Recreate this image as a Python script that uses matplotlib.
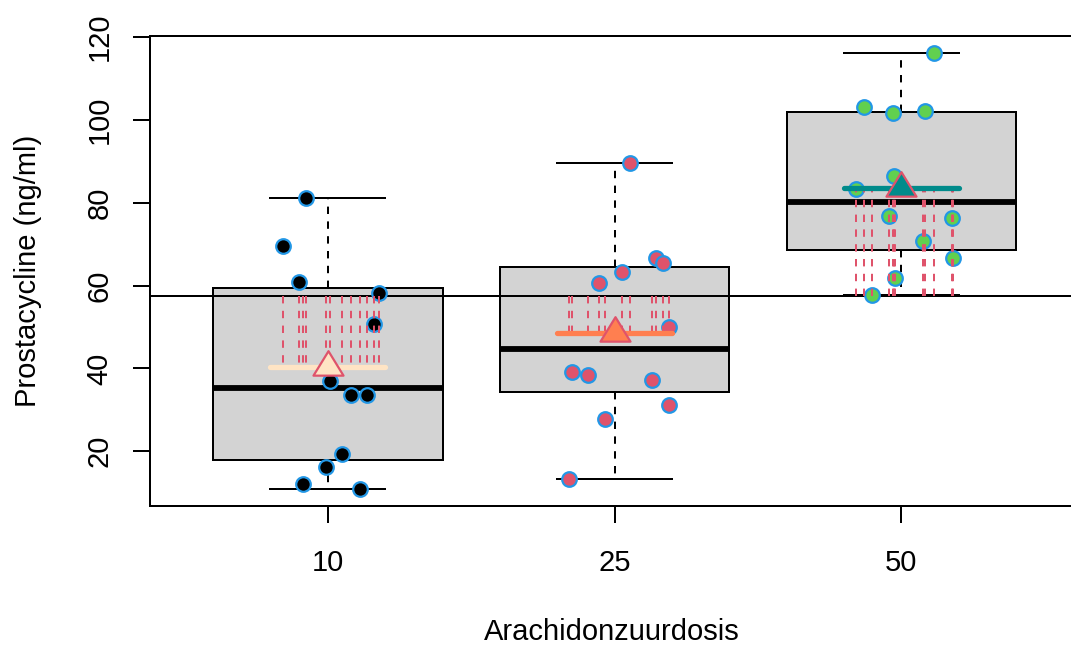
import numpy as np
import matplotlib.pyplot as plt
from matplotlib.path import Path

plt.rcParams['font.family'] = ['Liberation Sans', 'DejaVu Sans']

# data
doses = ["10", "25", "50"]
vals_10 = [81.2, 69.5, 60.9, 58.1, 50.8, 36.9, 33.7, 33.5, 19.4, 16.2, 12.2, 11.0]
vals_25 = [89.6, 66.6, 65.4, 63.3, 60.6, 50.1, 39.1, 38.5, 37.3, 31.1, 27.9, 13.4]
vals_50 = [116.0, 103.0, 101.6, 102.2, 86.4, 83.4, 76.8, 76.4, 70.7, 66.6, 61.9, 57.6]
# horizontal jitter of each point (as drawn)
jit_10 = [-0.076, -0.156, -0.100, 0.178, 0.161, 0.009, 0.081, 0.138, 0.048, -0.005, -0.086, 0.113]
jit_25 = [0.055, 0.143, 0.168, 0.026, -0.053, 0.191, -0.150, -0.092, 0.130, 0.189, -0.034, -0.160]
jit_50 = [0.115, -0.129, -0.029, 0.082, -0.026, -0.157, -0.044, 0.177, 0.075, 0.179, -0.021, -0.102]

groups = [vals_10, vals_25, vals_50]
jitters = [jit_10, jit_25, jit_50]
point_cols = ["black", "#DF536B", "#61D04F"]
mean_cols = ["#FFE4C4", "#FF7F50", "#008B8B"]
red = "#DF536B"
blue = "#2297E6"


def fivenum(x):
    x = np.sort(np.asarray(x, float))
    n = len(x)
    n4 = np.floor((n + 3) / 2) / 2
    d = np.array([1, n4, (n + 1) / 2, n + 1 - n4, n]) - 1
    return 0.5 * (x[np.floor(d).astype(int)] + x[np.ceil(d).astype(int)])


stats = []
for i, g in enumerate(groups):
    lo, q1, med, q3, hi = fivenum(g)
    iqr = q3 - q1
    arr = np.asarray(g)
    wlo = arr[arr >= q1 - 1.5 * iqr].min()
    whi = arr[arr <= q3 + 1.5 * iqr].max()
    stats.append(dict(med=med, q1=q1, q3=q3, whislo=wlo, whishi=whi, fliers=[], label=doses[i]))

fig = plt.figure(figsize=(10.71, 6.49), dpi=100)
ax = fig.add_axes([150 / 1071, 1 - 506 / 649, 929.2 / 1071, 470 / 649])

lw = 1.44
ax.bxp(stats, positions=[1, 2, 3], widths=0.8, capwidths=0.4, patch_artist=True,
       showfliers=False,
       boxprops=dict(facecolor="#D3D3D3", edgecolor="black", linewidth=lw),
       medianprops=dict(color="black", linewidth=4.2, solid_capstyle="butt"),
       whiskerprops=dict(color="black", linewidth=lw, linestyle=(0, (3.7, 3.7))),
       capprops=dict(color="black", linewidth=lw), zorder=1)

grand_mean = np.mean(np.concatenate(groups))
ax.axhline(grand_mean, color="black", linewidth=lw, zorder=1.5)

# centroid-centred triangle like R's pch 24
tri = Path([(0, 1), (-0.92, -0.5), (0.92, -0.5), (0, 1)],
           [Path.MOVETO, Path.LINETO, Path.LINETO, Path.CLOSEPOLY])

for i, (g, j) in enumerate(zip(groups, jitters)):
    pos = i + 1
    xs = pos + np.asarray(j)
    ax.plot(xs, g, "o", ms=10.5, mfc=point_cols[i], mec=blue, mew=1.6,
            linestyle="none", zorder=2)
    m = np.mean(g)
    ax.vlines(xs, grand_mean, m, colors=red, linewidth=lw,
              linestyles=[(0, (3.7, 3.7))], zorder=3)
    ax.plot([pos - 0.2, pos + 0.2], [m, m], color=mean_cols[i], linewidth=3.8,
            solid_capstyle="round", zorder=4)
    ax.plot([pos], [m], marker=tri, ms=23.5, mfc=mean_cols[i], mec=red, mew=1.6,
            linestyle="none", zorder=5)

allv = np.concatenate(groups)
span = allv.max() - allv.min()
ax.set_ylim(allv.min() - 0.04 * span, allv.max() + 0.04 * span)
ax.set_xlim(0.38, 3.62)

ax.set_xticks([1, 2, 3])
ax.set_xticklabels(doses)
ax.set_yticks([20, 40, 60, 80, 100, 120])
ax.set_yticklabels(["20", "40", "60", "80", "100", "120"], rotation=90, va="center", ha="center")
ax.tick_params(axis="both", direction="out", length=12, width=lw, labelsize=21)
ax.tick_params(axis="y", pad=24.5)
ax.tick_params(axis="x", pad=29)
for lab in ax.get_xticklabels():
    lab.set_va("center")
for s in ax.spines.values():
    s.set_linewidth(lw)

ax.set_xlabel("Arachidonzuurdosis", fontsize=21, va="center")
ax.set_ylabel("Prostacycline (ng/ml)", fontsize=21, va="center")
ax.xaxis.set_label_coords((612 - 150) / 929.2, -(632 - 506) / 470)
ax.yaxis.set_label_coords(-(150 - 28) / 929.2, 0.5)

fig.savefig("out.png", dpi=100)
